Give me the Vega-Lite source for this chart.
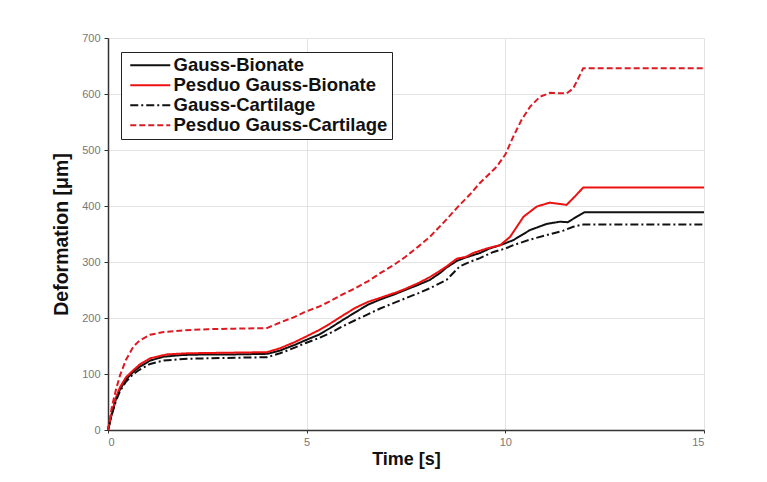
{
  "$schema": "https://vega.github.io/schema/vega-lite/v6.json",
  "autosize": {"type": "none"},
  "padding": {"left": 108, "top": 38, "right": 63, "bottom": 52},
  "width": 596,
  "height": 392,
  "background": "white",
  "config": {
    "view": {"stroke": "#d9d9d9", "strokeWidth": 1},
    "font": "Liberation Sans"
  },
  "datasets": {
    "deformation": [
      {"t": 0, "v": 0, "s": "Gauss-Bionate"},
      {"t": 0.1, "v": 30, "s": "Gauss-Bionate"},
      {"t": 0.2, "v": 55, "s": "Gauss-Bionate"},
      {"t": 0.3, "v": 72, "s": "Gauss-Bionate"},
      {"t": 0.45, "v": 90, "s": "Gauss-Bionate"},
      {"t": 0.64, "v": 104, "s": "Gauss-Bionate"},
      {"t": 0.8, "v": 113, "s": "Gauss-Bionate"},
      {"t": 1.06, "v": 124, "s": "Gauss-Bionate"},
      {"t": 1.4, "v": 131, "s": "Gauss-Bionate"},
      {"t": 1.9, "v": 134, "s": "Gauss-Bionate"},
      {"t": 2.5, "v": 135, "s": "Gauss-Bionate"},
      {"t": 3.2, "v": 135, "s": "Gauss-Bionate"},
      {"t": 4.0, "v": 136, "s": "Gauss-Bionate"},
      {"t": 4.33, "v": 142, "s": "Gauss-Bionate"},
      {"t": 4.7, "v": 152, "s": "Gauss-Bionate"},
      {"t": 4.96, "v": 160, "s": "Gauss-Bionate"},
      {"t": 5.3, "v": 170, "s": "Gauss-Bionate"},
      {"t": 5.59, "v": 182, "s": "Gauss-Bionate"},
      {"t": 5.9, "v": 196, "s": "Gauss-Bionate"},
      {"t": 6.22, "v": 210, "s": "Gauss-Bionate"},
      {"t": 6.55, "v": 224, "s": "Gauss-Bionate"},
      {"t": 6.85, "v": 233, "s": "Gauss-Bionate"},
      {"t": 7.2, "v": 242, "s": "Gauss-Bionate"},
      {"t": 7.48, "v": 250, "s": "Gauss-Bionate"},
      {"t": 7.8, "v": 259, "s": "Gauss-Bionate"},
      {"t": 8.1, "v": 268, "s": "Gauss-Bionate"},
      {"t": 8.35, "v": 280, "s": "Gauss-Bionate"},
      {"t": 8.52, "v": 290, "s": "Gauss-Bionate"},
      {"t": 8.78, "v": 302, "s": "Gauss-Bionate"},
      {"t": 9.0, "v": 308, "s": "Gauss-Bionate"},
      {"t": 9.36, "v": 316, "s": "Gauss-Bionate"},
      {"t": 9.6, "v": 324, "s": "Gauss-Bionate"},
      {"t": 9.87, "v": 330, "s": "Gauss-Bionate"},
      {"t": 10.2, "v": 339, "s": "Gauss-Bionate"},
      {"t": 10.62, "v": 357, "s": "Gauss-Bionate"},
      {"t": 11.04, "v": 368, "s": "Gauss-Bionate"},
      {"t": 11.38, "v": 372, "s": "Gauss-Bionate"},
      {"t": 11.57, "v": 371, "s": "Gauss-Bionate"},
      {"t": 11.8, "v": 381, "s": "Gauss-Bionate"},
      {"t": 12.0, "v": 389, "s": "Gauss-Bionate"},
      {"t": 15, "v": 389, "s": "Gauss-Bionate"},

      {"t": 0, "v": 0, "s": "Pesduo Gauss-Bionate"},
      {"t": 0.1, "v": 32, "s": "Pesduo Gauss-Bionate"},
      {"t": 0.2, "v": 58, "s": "Pesduo Gauss-Bionate"},
      {"t": 0.3, "v": 76, "s": "Pesduo Gauss-Bionate"},
      {"t": 0.45, "v": 94, "s": "Pesduo Gauss-Bionate"},
      {"t": 0.64, "v": 107, "s": "Pesduo Gauss-Bionate"},
      {"t": 0.8, "v": 117, "s": "Pesduo Gauss-Bionate"},
      {"t": 1.06, "v": 128, "s": "Pesduo Gauss-Bionate"},
      {"t": 1.48, "v": 135, "s": "Pesduo Gauss-Bionate"},
      {"t": 2.0, "v": 137, "s": "Pesduo Gauss-Bionate"},
      {"t": 3.0, "v": 138, "s": "Pesduo Gauss-Bionate"},
      {"t": 4.0, "v": 139, "s": "Pesduo Gauss-Bionate"},
      {"t": 4.33, "v": 146, "s": "Pesduo Gauss-Bionate"},
      {"t": 4.7, "v": 157, "s": "Pesduo Gauss-Bionate"},
      {"t": 4.96, "v": 166, "s": "Pesduo Gauss-Bionate"},
      {"t": 5.3, "v": 178, "s": "Pesduo Gauss-Bionate"},
      {"t": 5.59, "v": 190, "s": "Pesduo Gauss-Bionate"},
      {"t": 5.9, "v": 204, "s": "Pesduo Gauss-Bionate"},
      {"t": 6.22, "v": 218, "s": "Pesduo Gauss-Bionate"},
      {"t": 6.55, "v": 229, "s": "Pesduo Gauss-Bionate"},
      {"t": 6.85, "v": 236, "s": "Pesduo Gauss-Bionate"},
      {"t": 7.1, "v": 242, "s": "Pesduo Gauss-Bionate"},
      {"t": 7.27, "v": 246, "s": "Pesduo Gauss-Bionate"},
      {"t": 7.48, "v": 252, "s": "Pesduo Gauss-Bionate"},
      {"t": 7.8, "v": 262, "s": "Pesduo Gauss-Bionate"},
      {"t": 8.1, "v": 273, "s": "Pesduo Gauss-Bionate"},
      {"t": 8.35, "v": 284, "s": "Pesduo Gauss-Bionate"},
      {"t": 8.52, "v": 292, "s": "Pesduo Gauss-Bionate"},
      {"t": 8.78, "v": 306, "s": "Pesduo Gauss-Bionate"},
      {"t": 9.0, "v": 309, "s": "Pesduo Gauss-Bionate"},
      {"t": 9.19, "v": 316, "s": "Pesduo Gauss-Bionate"},
      {"t": 9.53, "v": 324, "s": "Pesduo Gauss-Bionate"},
      {"t": 9.87, "v": 330, "s": "Pesduo Gauss-Bionate"},
      {"t": 10.12, "v": 345, "s": "Pesduo Gauss-Bionate"},
      {"t": 10.46, "v": 381, "s": "Pesduo Gauss-Bionate"},
      {"t": 10.79, "v": 399, "s": "Pesduo Gauss-Bionate"},
      {"t": 11.12, "v": 406, "s": "Pesduo Gauss-Bionate"},
      {"t": 11.54, "v": 402, "s": "Pesduo Gauss-Bionate"},
      {"t": 11.75, "v": 417, "s": "Pesduo Gauss-Bionate"},
      {"t": 11.96, "v": 433, "s": "Pesduo Gauss-Bionate"},
      {"t": 15, "v": 433, "s": "Pesduo Gauss-Bionate"},

      {"t": 0, "v": 0, "s": "Gauss-Cartilage"},
      {"t": 0.1, "v": 28, "s": "Gauss-Cartilage"},
      {"t": 0.2, "v": 52, "s": "Gauss-Cartilage"},
      {"t": 0.3, "v": 69, "s": "Gauss-Cartilage"},
      {"t": 0.45, "v": 86, "s": "Gauss-Cartilage"},
      {"t": 0.64, "v": 100, "s": "Gauss-Cartilage"},
      {"t": 0.8, "v": 108, "s": "Gauss-Cartilage"},
      {"t": 1.06, "v": 118, "s": "Gauss-Cartilage"},
      {"t": 1.4, "v": 124, "s": "Gauss-Cartilage"},
      {"t": 1.9, "v": 127, "s": "Gauss-Cartilage"},
      {"t": 2.5, "v": 128, "s": "Gauss-Cartilage"},
      {"t": 3.2, "v": 129, "s": "Gauss-Cartilage"},
      {"t": 4.0, "v": 130, "s": "Gauss-Cartilage"},
      {"t": 4.33, "v": 137, "s": "Gauss-Cartilage"},
      {"t": 4.7, "v": 147, "s": "Gauss-Cartilage"},
      {"t": 4.96, "v": 155, "s": "Gauss-Cartilage"},
      {"t": 5.3, "v": 164, "s": "Gauss-Cartilage"},
      {"t": 5.59, "v": 173, "s": "Gauss-Cartilage"},
      {"t": 5.9, "v": 185, "s": "Gauss-Cartilage"},
      {"t": 6.22, "v": 196, "s": "Gauss-Cartilage"},
      {"t": 6.55, "v": 207, "s": "Gauss-Cartilage"},
      {"t": 6.85, "v": 217, "s": "Gauss-Cartilage"},
      {"t": 7.2, "v": 227, "s": "Gauss-Cartilage"},
      {"t": 7.48, "v": 235, "s": "Gauss-Cartilage"},
      {"t": 7.8, "v": 244, "s": "Gauss-Cartilage"},
      {"t": 8.1, "v": 253, "s": "Gauss-Cartilage"},
      {"t": 8.52, "v": 268, "s": "Gauss-Cartilage"},
      {"t": 8.85, "v": 292, "s": "Gauss-Cartilage"},
      {"t": 9.1, "v": 300, "s": "Gauss-Cartilage"},
      {"t": 9.36, "v": 307, "s": "Gauss-Cartilage"},
      {"t": 9.7, "v": 318, "s": "Gauss-Cartilage"},
      {"t": 10.0, "v": 324, "s": "Gauss-Cartilage"},
      {"t": 10.2, "v": 330, "s": "Gauss-Cartilage"},
      {"t": 10.62, "v": 340, "s": "Gauss-Cartilage"},
      {"t": 11.04, "v": 348, "s": "Gauss-Cartilage"},
      {"t": 11.46, "v": 356, "s": "Gauss-Cartilage"},
      {"t": 11.71, "v": 363, "s": "Gauss-Cartilage"},
      {"t": 11.96, "v": 367, "s": "Gauss-Cartilage"},
      {"t": 15, "v": 367, "s": "Gauss-Cartilage"},

      {"t": 0, "v": 0, "s": "Pesduo Gauss-Cartilage"},
      {"t": 0.1, "v": 42, "s": "Pesduo Gauss-Cartilage"},
      {"t": 0.2, "v": 72, "s": "Pesduo Gauss-Cartilage"},
      {"t": 0.3, "v": 97, "s": "Pesduo Gauss-Cartilage"},
      {"t": 0.45, "v": 125, "s": "Pesduo Gauss-Cartilage"},
      {"t": 0.64, "v": 149, "s": "Pesduo Gauss-Cartilage"},
      {"t": 0.8, "v": 160, "s": "Pesduo Gauss-Cartilage"},
      {"t": 1.06, "v": 170, "s": "Pesduo Gauss-Cartilage"},
      {"t": 1.4, "v": 175, "s": "Pesduo Gauss-Cartilage"},
      {"t": 1.9, "v": 178, "s": "Pesduo Gauss-Cartilage"},
      {"t": 2.5, "v": 180, "s": "Pesduo Gauss-Cartilage"},
      {"t": 3.2, "v": 181, "s": "Pesduo Gauss-Cartilage"},
      {"t": 4.0, "v": 182, "s": "Pesduo Gauss-Cartilage"},
      {"t": 4.33, "v": 192, "s": "Pesduo Gauss-Cartilage"},
      {"t": 4.67, "v": 201, "s": "Pesduo Gauss-Cartilage"},
      {"t": 4.96, "v": 211, "s": "Pesduo Gauss-Cartilage"},
      {"t": 5.3, "v": 220, "s": "Pesduo Gauss-Cartilage"},
      {"t": 5.59, "v": 230, "s": "Pesduo Gauss-Cartilage"},
      {"t": 5.9, "v": 242, "s": "Pesduo Gauss-Cartilage"},
      {"t": 6.22, "v": 253, "s": "Pesduo Gauss-Cartilage"},
      {"t": 6.55, "v": 266, "s": "Pesduo Gauss-Cartilage"},
      {"t": 6.85, "v": 280, "s": "Pesduo Gauss-Cartilage"},
      {"t": 7.2, "v": 295, "s": "Pesduo Gauss-Cartilage"},
      {"t": 7.48, "v": 309, "s": "Pesduo Gauss-Cartilage"},
      {"t": 7.8, "v": 327, "s": "Pesduo Gauss-Cartilage"},
      {"t": 8.1, "v": 345, "s": "Pesduo Gauss-Cartilage"},
      {"t": 8.44, "v": 370, "s": "Pesduo Gauss-Cartilage"},
      {"t": 8.8, "v": 398, "s": "Pesduo Gauss-Cartilage"},
      {"t": 9.1, "v": 420, "s": "Pesduo Gauss-Cartilage"},
      {"t": 9.36, "v": 441, "s": "Pesduo Gauss-Cartilage"},
      {"t": 9.78, "v": 470, "s": "Pesduo Gauss-Cartilage"},
      {"t": 10.0, "v": 492, "s": "Pesduo Gauss-Cartilage"},
      {"t": 10.2, "v": 524, "s": "Pesduo Gauss-Cartilage"},
      {"t": 10.41, "v": 554, "s": "Pesduo Gauss-Cartilage"},
      {"t": 10.62, "v": 577, "s": "Pesduo Gauss-Cartilage"},
      {"t": 10.87, "v": 595, "s": "Pesduo Gauss-Cartilage"},
      {"t": 11.12, "v": 602, "s": "Pesduo Gauss-Cartilage"},
      {"t": 11.54, "v": 601, "s": "Pesduo Gauss-Cartilage"},
      {"t": 11.71, "v": 610, "s": "Pesduo Gauss-Cartilage"},
      {"t": 11.96, "v": 646, "s": "Pesduo Gauss-Cartilage"},
      {"t": 15, "v": 646, "s": "Pesduo Gauss-Cartilage"}
    ]
  },
  "data": {"name": "deformation"},
  "mark": {"type": "line", "strokeWidth": 2, "interpolate": "linear"},
  "encoding": {
    "x": {
      "field": "t",
      "type": "quantitative",
      "scale": {"domain": [0, 15], "nice": false, "zero": false},
      "axis": {
        "title": "Time [s]",
        "values": [0, 5, 10, 15],
        "format": "d",
        "grid": true,
        "gridColor": "#e3e3e3",
        "gridWidth": 1,
        "domainColor": "#333333",
        "domainWidth": 1.5,
        "tickColor": "#333333",
        "tickSize": 3,
        "labelFont": "Liberation Sans",
        "labelFontSize": 11,
        "labelColor": "#777777",
        "labelPadding": 3,
        "titleFont": "Liberation Sans",
        "titleFontSize": 18,
        "titleFontWeight": "bold",
        "titleColor": "#111111",
        "titlePadding": 3
      }
    },
    "y": {
      "field": "v",
      "type": "quantitative",
      "scale": {"domain": [0, 700], "nice": false},
      "axis": {
        "title": "Deformation [μm]",
        "values": [0, 100, 200, 300, 400, 500, 600, 700],
        "grid": true,
        "gridColor": "#e3e3e3",
        "gridWidth": 1,
        "domainColor": "#333333",
        "domainWidth": 1.5,
        "tickColor": "#333333",
        "tickSize": 4,
        "labelFont": "Liberation Sans",
        "labelFontSize": 11,
        "labelColor": "#777777",
        "labelPadding": 4,
        "titleFont": "Liberation Sans",
        "titleFontSize": 19.5,
        "titleFontWeight": "bold",
        "titleColor": "#111111",
        "titlePadding": 10
      }
    },
    "color": {
      "field": "s",
      "type": "nominal",
      "title": null,
      "scale": {
        "domain": ["Gauss-Bionate", "Pesduo Gauss-Bionate", "Gauss-Cartilage", "Pesduo Gauss-Cartilage"],
        "range": ["#111111", "#ee1111", "#111111", "#dd1a22"]
      },
      "legend": {
        "orient": "none",
        "legendX": 13,
        "legendY": 14,
        "symbolType": "M-0.8,0H7.2",
        "symbolSize": 100,
        "symbolStrokeWidth": 2,
        "labelFont": "Liberation Sans",
        "labelFontSize": 18.5,
        "labelFontWeight": "bold",
        "labelColor": "#111111",
        "labelOffset": 30,
        "labelLimit": 400,
        "rowPadding": 1,
        "padding": 4,
        "strokeColor": "#222222",
        "fillColor": "white"
      }
    },
    "strokeDash": {
      "field": "s",
      "type": "nominal",
      "title": null,
      "scale": {
        "domain": ["Gauss-Bionate", "Pesduo Gauss-Bionate", "Gauss-Cartilage", "Pesduo Gauss-Cartilage"],
        "range": [[1, 0], [1, 0], [8, 3, 2, 3], [6, 3]]
      }
    }
  }
}
